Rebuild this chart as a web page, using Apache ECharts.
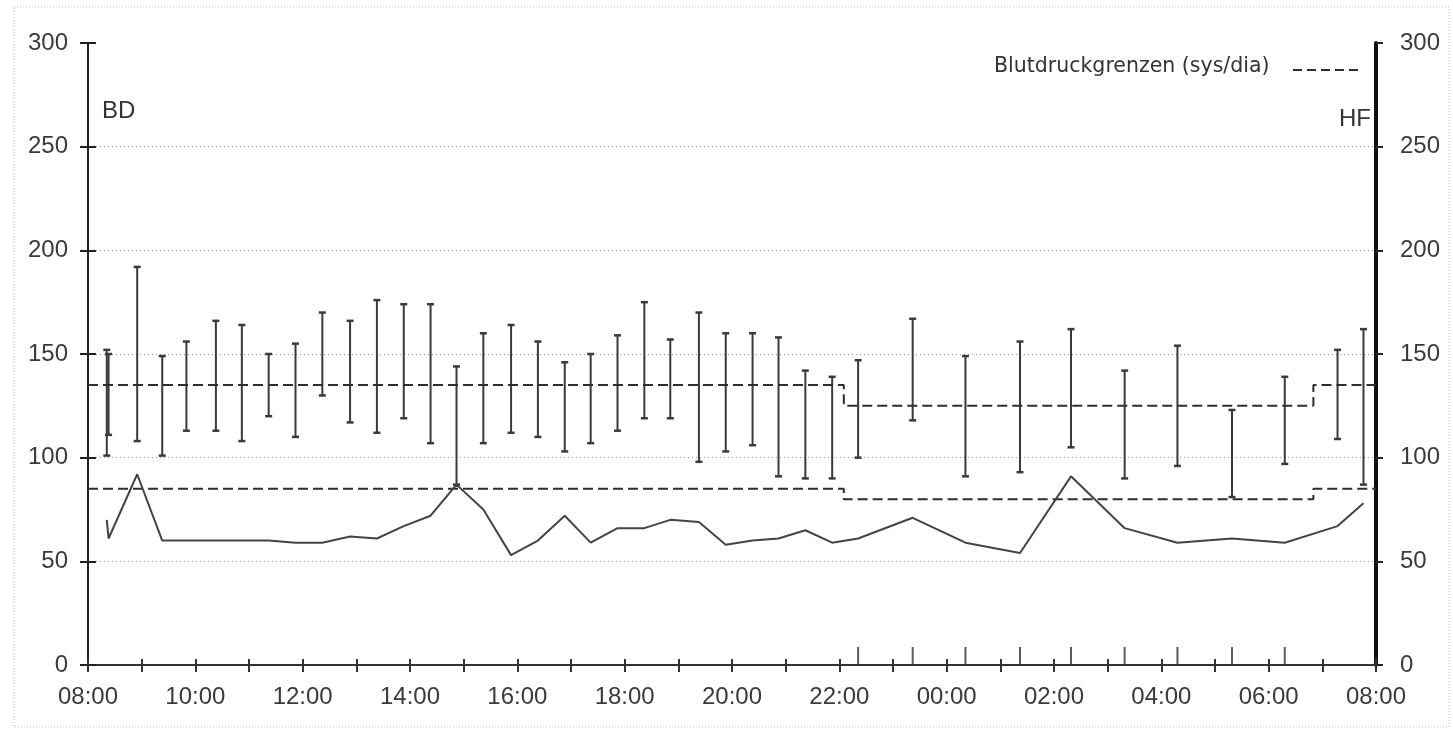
<!DOCTYPE html>
<html>
<head>
<meta charset="utf-8">
<title>24h-Blutdruckmessung</title>
<script src="https://cdn.jsdelivr.net/npm/echarts@6/dist/echarts.min.js"></script>
<style>
  html, body { margin: 0; padding: 0; background: #fff; }
  #chart { width: 1453px; height: 731px; }
</style>
</head>
<body>
<div id="chart"></div>
<script>
// Messzeitpunkte (Uhrzeit), systolisch / diastolisch (mmHg), Herzfrequenz (1/min)
const times = ['08:21','08:23','08:55','09:23','09:50','10:23','10:52','11:22','11:52','12:22',
               '12:53','13:23','13:53','14:23','14:52','15:22','15:53','16:23','16:53','17:22',
               '17:52','18:22','18:51','19:23','19:53','20:23','20:52','21:22','21:52','22:21',
               '23:22','00:21','01:22','02:19','03:19','04:18','05:19','06:18','07:17','07:46'];
const systolic = [152,150,192,149,156,166,164,150,155,170,
                  166,176,174,174,144,160,164,156,146,150,
                  159,175,157,170,160,160,158,142,139,147,
                  167,149,156,162,142,154,123,139,152,162];
const diastolic = [101,111,108,101,113,113,108,120,110,130,
                   117,112,119,107,87,107,112,110,103,107,
                   113,119,119,98,103,106,91,90,90,100,
                   118,91,93,105,90,96,81,97,109,87];
const heartRate = [70,61,92,60,60,60,60,60,59,59,
                   62,61,67,72,87,75,53,60,72,59,
                   66,66,70,69,58,60,61,65,59,61,
                   71,59,54,91,66,59,61,59,67,78];

// Blutdruckgrenzen: Tag / Nacht / Tag
const limitTimes = ['08:00','22:05','06:50'];
const sysLimit = [135,125,135];
const diaLimit = [85,80,85];

// Achsen
const yTicks = [0,50,100,150,200,250,300];
const xLabelHours = ['08:00','10:00','12:00','14:00','16:00','18:00','20:00','22:00','00:00','02:00','04:00','06:00','08:00'];

// Stunden seit Beginn der Aufzeichnung (08:00)
function toHours(t) {
  const [h, m] = t.split(':').map(Number);
  return ((h - 8 + 24) % 24) + m / 60;
}

const bpData = times.map((t, i) => [toHours(t), systolic[i], diastolic[i]]);
const hrData = times.map((t, i) => [toHours(t), heartRate[i]]);
const nightStart = toHours(limitTimes[1]);
const nightEnd = toHours(limitTimes[2]);
const nightMarks = times.map(toHours).filter(h => h >= nightStart && h <= nightEnd).map(h => [h, 0]);
function limitLine(vals) {
  const pts = limitTimes.map((t, i) => [toHours(t), vals[i]]);
  pts.push([24, vals[vals.length - 1]]);
  return pts;
}

const ink = '#2e2e2e';
const labelFont = '"Liberation Sans", Arial, sans-serif';
const textFont = '"DejaVu Sans", sans-serif';

const yBase = {
  type: 'value', min: yTicks[0], max: yTicks[yTicks.length - 1], interval: 50
};

const chart = echarts.init(document.getElementById('chart'), null, { renderer: 'canvas' });
chart.setOption({
  animation: false,
  backgroundColor: '#fff',
  grid: { left: 88, right: 77, top: 43, bottom: 66, containLabel: false },
  xAxis: [
    {
      type: 'value', min: 0, max: 24, interval: 1,
      axisLine: { show: true, onZero: false, lineStyle: { color: '#333', width: 2 } },
      axisTick: { show: true, inside: false, length: 7, lineStyle: { color: '#333', width: 2 } },
      axisLabel: {
        margin: 20, color: '#3a3a3a', fontSize: 24, fontFamily: labelFont,
        formatter: v => (v % 2 === 0 ? xLabelHours[v / 2] : '')
      },
      splitLine: { show: false }
    },
    {
      type: 'value', min: 0, max: 24, interval: 1, position: 'bottom',
      axisLine: { show: false },
      axisTick: { show: true, inside: true, length: 6, lineStyle: { color: '#333', width: 2 } },
      axisLabel: { show: false },
      splitLine: { show: false }
    }
  ],
  yAxis: [
    Object.assign({}, yBase, {
      position: 'left',
      axisLine: { show: true, onZero: false, lineStyle: { color: '#222', width: 2 } },
      axisTick: { show: true, length: 8, lineStyle: { color: '#222', width: 2 } },
      axisLabel: { margin: 20, color: '#3a3a3a', fontSize: 24, fontFamily: labelFont },
      splitLine: { show: true, showMaxLine: false, lineStyle: { color: '#9a9a9a', type: [1, 3], width: 1 } }
    }),
    Object.assign({}, yBase, {
      position: 'right',
      axisLine: { show: true, onZero: false, lineStyle: { color: '#111', width: 4 } },
      axisTick: { show: true, length: 7, lineStyle: { color: '#222', width: 2 } },
      axisLabel: { margin: 24, color: '#3a3a3a', fontSize: 24, fontFamily: labelFont },
      splitLine: { show: false }
    }),
    Object.assign({}, yBase, {
      position: 'left',
      axisLine: { show: false },
      axisTick: { show: true, inside: true, length: 8, lineStyle: { color: '#222', width: 2 } },
      axisLabel: { show: false },
      splitLine: { show: false }
    }),
    Object.assign({}, yBase, {
      position: 'right',
      axisLine: { show: false },
      axisTick: { show: true, inside: true, length: 7, lineStyle: { color: '#222', width: 2 } },
      axisLabel: { show: false },
      splitLine: { show: false }
    })
  ],
  graphic: [
    { type: 'rect', silent: true, z: -1,
      shape: { x: 14, y: 7, width: 1435, height: 720 },
      style: { fill: null, stroke: '#bdbdbd', lineWidth: 1, lineDash: [1, 2] } },
    { type: 'text', left: 102, top: 99, silent: true,
      style: { text: 'BD', fill: '#333', font: '24px "Liberation Sans", Arial, sans-serif' } },
    { type: 'text', left: 1339, top: 107, silent: true,
      style: { text: 'HF', fill: '#333', font: '24px "Liberation Sans", Arial, sans-serif' } },
    { type: 'text', left: 994, top: 56, silent: true,
      style: { text: 'Blutdruckgrenzen (sys/dia)', fill: '#333', font: '20.5px ' + textFont } },
    { type: 'line', silent: true,
      shape: { x1: 1293, y1: 70, x2: 1358, y2: 70 },
      style: { stroke: ink, lineWidth: 2, lineDash: [9, 5] } }
  ],
  series: [
    {
      name: 'Blutdruckgrenzen (sys/dia)', type: 'line', step: 'end',
      xAxisIndex: 0, yAxisIndex: 0, data: limitLine(sysLimit),
      symbol: 'none', silent: true,
      lineStyle: { color: ink, width: 2, type: [10, 5] }
    },
    {
      name: 'Blutdruckgrenzen (sys/dia)', type: 'line', step: 'end',
      xAxisIndex: 0, yAxisIndex: 0, data: limitLine(diaLimit),
      symbol: 'none', silent: true,
      lineStyle: { color: ink, width: 2, type: [10, 5] }
    },
    {
      name: 'BD', type: 'custom', xAxisIndex: 0, yAxisIndex: 0,
      data: bpData, silent: true, z: 3,
      renderItem: function (params, api) {
        const x = api.value(0);
        const top = api.coord([x, api.value(1)]);
        const bot = api.coord([x, api.value(2)]);
        const cw = 3.5;
        const st = { stroke: '#3a3a3a', lineWidth: 2 };
        return {
          type: 'group',
          children: [
            { type: 'line', shape: { x1: top[0], y1: top[1], x2: bot[0], y2: bot[1] }, style: st },
            { type: 'line', shape: { x1: top[0] - cw, y1: top[1], x2: top[0] + cw, y2: top[1] },
              style: { stroke: '#3a3a3a', lineWidth: 2.5 } },
            { type: 'line', shape: { x1: bot[0] - cw, y1: bot[1], x2: bot[0] + cw, y2: bot[1] },
              style: { stroke: '#3a3a3a', lineWidth: 2.5 } }
          ]
        };
      }
    },
    {
      name: 'HF', type: 'line', xAxisIndex: 0, yAxisIndex: 1,
      data: hrData, symbol: 'none', silent: true, z: 4,
      lineStyle: { color: '#444', width: 2 }
    },
    {
      name: 'Nachtmessungen', type: 'scatter', xAxisIndex: 0, yAxisIndex: 0,
      data: nightMarks, silent: true, z: 5,
      symbol: 'rect', symbolSize: [2, 18], symbolOffset: [0, '-50%'],
      itemStyle: { color: '#333' }
    }
  ]
});
</script>
</body>
</html>
